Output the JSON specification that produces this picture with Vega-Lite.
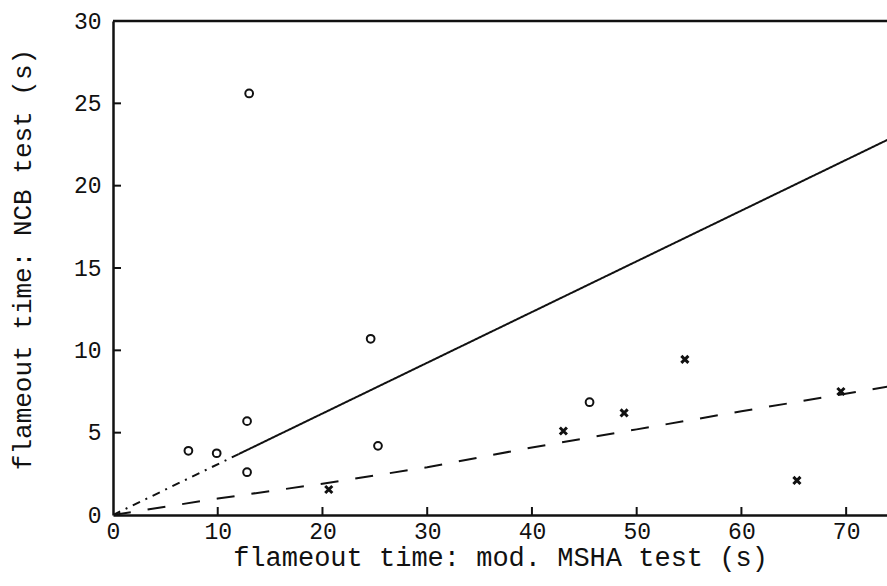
{
  "$schema": "https://vega.github.io/schema/vega-lite/v6.json",
  "width": 774,
  "height": 494,
  "autosize": {"type": "none"},
  "padding": {"left": 113, "top": 21, "right": 0, "bottom": 71},
  "background": "white",
  "config": {
    "view": {"stroke": null},
    "axis": {
      "domainColor": "#111",
      "domainWidth": 2.5,
      "ticks": false,
      "grid": false,
      "labelFont": "Liberation Mono",
      "labelFontSize": 23,
      "labelColor": "#111",
      "titleFont": "Liberation Mono",
      "titleFontSize": 27,
      "titleFontWeight": "normal",
      "titleColor": "#111",
      "labelOverlap": false,
      "labelFlush": false
    },
    "axisX": {"labelPadding": 5, "titleY": 29, "titleBaseline": "top"},
    "axisY": {"labelPadding": 12, "titleX": -83, "titleY": 238, "titleAngle": 270, "titleBaseline": "alphabetic", "titleFontSize": 26}
  },
  "datasets": {
    "lines": [
      {"series": "o fit extension", "x": 0, "y": 0},
      {"series": "o fit extension", "x": 12, "y": 3.7},
      {"series": "o fit", "x": 12, "y": 3.7},
      {"series": "o fit", "x": 74, "y": 22.8},
      {"series": "x fit", "x": 0, "y": 0},
      {"series": "x fit", "x": 10, "y": 1.0},
      {"series": "x fit", "x": 20, "y": 1.9},
      {"series": "x fit", "x": 30, "y": 2.9},
      {"series": "x fit", "x": 40, "y": 4.1},
      {"series": "x fit", "x": 50, "y": 5.2},
      {"series": "x fit", "x": 60, "y": 6.3},
      {"series": "x fit", "x": 74, "y": 7.8}
    ],
    "points": [
      {"group": "o", "x": 7.2, "y": 3.9},
      {"group": "o", "x": 9.9, "y": 3.75},
      {"group": "o", "x": 12.8, "y": 5.7},
      {"group": "o", "x": 12.8, "y": 2.6},
      {"group": "o", "x": 13.0, "y": 25.6},
      {"group": "o", "x": 24.6, "y": 10.7},
      {"group": "o", "x": 25.3, "y": 4.2},
      {"group": "o", "x": 45.5, "y": 6.85},
      {"group": "x", "x": 20.6, "y": 1.55},
      {"group": "x", "x": 43.0, "y": 5.1},
      {"group": "x", "x": 48.8, "y": 6.2},
      {"group": "x", "x": 54.6, "y": 9.45},
      {"group": "x", "x": 65.3, "y": 2.1},
      {"group": "x", "x": 69.5, "y": 7.5}
    ],
    "xticks": [{"tx": 10}, {"tx": 20}, {"tx": 30}, {"tx": 40}, {"tx": 50}, {"tx": 60}, {"tx": 70}],
    "yticks": [{"ty": 5}, {"ty": 10}, {"ty": 15}, {"ty": 20}, {"ty": 25}]
  },
  "layer": [
    {
      "data": {"values": [{"top": 30}]},
      "mark": {"type": "rule", "color": "#111", "strokeWidth": 2.5},
      "encoding": {
        "y": {"field": "top", "type": "quantitative", "scale": {"domain": [0, 30], "nice": false}, "title": "flameout time: NCB test (s)", "axis": {"values": [0, 5, 10, 15, 20, 25, 30]}}
      }
    },
    {
      "data": {"name": "xticks"},
      "mark": {"type": "tick", "orient": "vertical", "color": "#111", "opacity": 1, "size": 8, "thickness": 2, "yOffset": -4},
      "encoding": {
        "x": {"field": "tx", "type": "quantitative", "title": "flameout time: mod. MSHA test (s)", "axis": {"values": [0, 10, 20, 30, 40, 50, 60, 70]}},
        "y": {"datum": 0, "type": "quantitative"}
      }
    },
    {
      "data": {"name": "yticks"},
      "mark": {"type": "tick", "orient": "horizontal", "color": "#111", "opacity": 1, "size": 8, "thickness": 2, "xOffset": 4},
      "encoding": {
        "y": {"field": "ty", "type": "quantitative", "title": "flameout time: NCB test (s)", "axis": {"values": [0, 5, 10, 15, 20, 25, 30]}},
        "x": {"datum": 0, "type": "quantitative"}
      }
    },
    {
      "data": {"name": "lines"},
      "mark": {"type": "line", "color": "#111", "strokeWidth": 2, "clip": true},
      "encoding": {
        "x": {"field": "x", "type": "quantitative", "scale": {"domain": [0, 73.9], "nice": false}, "title": "flameout time: mod. MSHA test (s)", "axis": {"values": [0, 10, 20, 30, 40, 50, 60, 70]}},
        "y": {"field": "y", "type": "quantitative", "scale": {"domain": [0, 30], "nice": false}, "title": "flameout time: NCB test (s)", "axis": {"values": [0, 5, 10, 15, 20, 25, 30]}},
        "detail": {"field": "series"},
        "strokeDash": {"field": "series", "type": "nominal", "legend": null,
          "scale": {"domain": ["o fit", "o fit extension", "x fit"], "range": [[1, 0], [8, 6, 2, 6], [18, 17]]}}
      }
    },
    {
      "data": {"name": "points"},
      "transform": [{"filter": "datum.group === 'o'"}],
      "mark": {"type": "point", "shape": "circle", "filled": false, "color": "#111", "opacity": 1, "strokeWidth": 2, "size": 60},
      "encoding": {
        "x": {"field": "x", "type": "quantitative", "title": "flameout time: mod. MSHA test (s)", "axis": {"values": [0, 10, 20, 30, 40, 50, 60, 70]}},
        "y": {"field": "y", "type": "quantitative", "title": "flameout time: NCB test (s)", "axis": {"values": [0, 5, 10, 15, 20, 25, 30]}}
      }
    },
    {
      "data": {"name": "points"},
      "transform": [{"filter": "datum.group === 'x'"}],
      "mark": {"type": "point", "shape": "M-1,-1L1,1M1,-1L-1,1", "filled": false, "color": "#111", "opacity": 1, "strokeWidth": 3, "size": 50},
      "encoding": {
        "x": {"field": "x", "type": "quantitative", "title": "flameout time: mod. MSHA test (s)", "axis": {"values": [0, 10, 20, 30, 40, 50, 60, 70]}},
        "y": {"field": "y", "type": "quantitative", "title": "flameout time: NCB test (s)", "axis": {"values": [0, 5, 10, 15, 20, 25, 30]}}
      }
    }
  ]
}
